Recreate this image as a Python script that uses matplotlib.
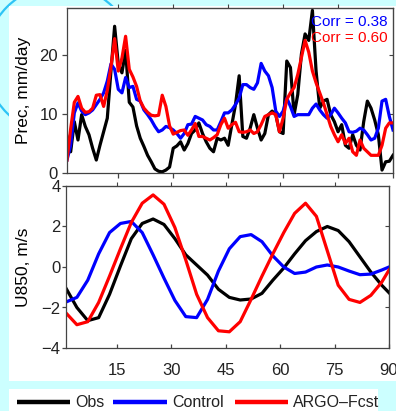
import numpy as np
import matplotlib
matplotlib.use("Agg")
import matplotlib.pyplot as plt
from matplotlib.patches import Rectangle, Ellipse
from matplotlib.lines import Line2D

plt.rcParams['font.family'] = ['Liberation Sans', 'DejaVu Sans']

# ---- data ----
days = np.arange(1, 91)

obs_prec = [6.2, 3.6, 8.7, 5.6, 9.9, 7.9, 6.5, 4.2, 2.2, 4.7,
            7.0, 9.3, 17.3, 24.9, 18.5, 17.0, 20.8, 12.0, 11.2, 8.0,
            5.9, 4.5, 3.0, 1.9, 0.7, 0.3, 0.2, 0.5, 1.0, 4.2,
            4.6, 5.3, 3.9, 5.0, 6.7, 7.3, 8.5, 6.7, 5.3, 4.2,
            3.6, 5.9, 5.6, 5.9, 4.7, 8.2, 11.6, 16.5, 6.2, 5.9,
            7.6, 9.9, 7.6, 5.6, 6.7, 9.9, 10.5, 9.9, 7.0, 6.7,
            19.0, 17.9, 9.9, 13.3, 20.2, 23.6, 22.5, 27.6, 17.3, 11.0,
            12.2, 12.5, 9.9, 8.7, 7.0, 8.2, 4.7, 4.2, 6.5, 4.7,
            3.9, 8.7, 12.2, 11.0, 9.0, 6.5, 0.5, 1.9, 2.0, 3.0]

ctl_prec = [2.2, 4.7, 10.2, 11.9, 10.5, 9.9, 10.2, 10.7, 11.6, 12.5,
            13.6, 15.6, 18.5, 17.6, 14.2, 13.6, 16.2, 14.5, 14.7, 12.5,
            12.2, 10.7, 9.9, 9.0, 7.9, 7.0, 7.3, 7.9, 7.7, 7.3,
            6.7, 5.9, 6.7, 8.2, 8.3, 9.6, 9.3, 9.0, 8.2, 7.9,
            7.3, 7.3, 8.7, 10.2, 10.2, 10.7, 11.6, 12.7, 15.0, 15.0,
            14.5, 14.2, 15.3, 18.6, 17.3, 16.5, 14.5, 10.5, 9.6, 10.5,
            12.7, 11.3, 9.6, 9.9, 9.9, 9.9, 9.9, 11.0, 11.7, 10.7,
            9.9, 9.3, 9.9, 11.0, 10.2, 9.3, 8.5, 7.0, 6.9, 7.1,
            7.6, 7.3, 6.5, 5.6, 5.9, 7.6, 12.2, 12.5, 9.6, 7.3]

argo_prec = [2.2, 7.5, 12.0, 13.0, 11.0, 10.3, 10.4, 11.0, 13.2, 13.3,
             11.3, 14.0, 18.0, 22.8, 17.3, 19.5, 23.2, 17.6, 16.3, 14.7,
             12.2, 11.0, 10.3, 9.8, 9.7, 9.8, 13.2, 11.3, 8.0, 6.6,
             6.9, 7.2, 7.3, 6.4, 7.3, 8.4, 6.2, 6.2, 5.9, 5.6,
             6.0, 6.5, 8.2, 9.3, 7.6, 8.2, 8.6, 7.0, 6.9, 7.0,
             7.3, 6.7, 7.0, 8.2, 9.6, 9.9, 10.2, 9.9, 7.0, 9.3,
             12.5, 13.6, 14.5, 16.7, 19.6, 22.5, 20.5, 17.3, 15.3, 13.6,
             11.9, 9.9, 7.9, 6.5, 5.3, 6.5, 5.0, 5.9, 3.6, 3.0,
             5.6, 4.2, 3.6, 3.0, 3.0, 3.0, 4.7, 7.6, 8.5, 8.5]

u_days = [1, 4, 7, 10, 13, 16, 19, 22, 25, 28, 31, 34, 37, 40, 43, 46,
          49, 52, 55, 58, 61, 64, 67, 70, 73, 76, 79, 82, 85, 88, 90]
obs_u = [-1.05, -2.0, -2.65, -2.5, -1.35, 0.05, 1.4, 2.15, 2.37, 2.1,
         1.4, 0.6, 0.1, -0.4, -1.1, -1.5, -1.63, -1.58, -1.3, -0.65,
         -0.05, 0.65, 1.3, 1.75, 2.0, 1.8, 1.25, 0.5, -0.25, -0.9, -1.27]
ctl_u = [-1.73, -1.5, -0.65, 0.65, 1.7, 2.15, 2.25, 1.7, 0.6, -0.55,
         -1.65, -2.45, -2.5, -1.6, -0.2, 0.9, 1.5, 1.6, 1.25, 0.55,
         0.0, -0.32, -0.25, 0.0, 0.1, 0.0, -0.2, -0.38, -0.35, -0.15, 0.0]
argo_u = [-2.27, -2.85, -2.7, -1.75, -0.45, 0.9, 2.2, 3.15, 3.56, 3.1,
          1.95, 0.35, -1.35, -2.5, -3.15, -3.2, -2.7, -1.6, -0.45, 0.65,
          1.7, 2.65, 3.15, 2.5, 0.8, -0.9, -1.6, -1.75, -1.4, -0.75, -0.15]

names = ['Obs', 'Control', 'ARGO\u2013Fcst']
colors = ['black', 'blue', 'red']
corr_text = ['Corr = 0.38', 'Corr = 0.60']

W, H = 396, 411
fig = plt.figure(figsize=(W / 100, H / 100), dpi=100)
fig.patch.set_facecolor('#ccffff')

# decorative arc + white panels (behind the axes)
fig.add_artist(Ellipse((60 / W, 1 - 60 / H), 150 / W, 150 / H, transform=fig.transFigure,
                       fill=False, edgecolor='#2ec4f6', lw=1.6, zorder=-2))
fig.add_artist(Rectangle((9 / W, 1 - 381 / H), 1, 375 / H, transform=fig.transFigure,
                         facecolor='white', edgecolor='none', zorder=-1))
fig.add_artist(Rectangle((9 / W, 0), 369 / W, 22 / H, transform=fig.transFigure,
                         facecolor='white', edgecolor='none', zorder=-1))

ax1 = fig.add_axes([67 / W, 1 - 173 / H, 326 / W, 165 / H])
ax2 = fig.add_axes([66 / W, 1 - 348 / H, 323 / W, 162 / H])

for y, c in zip([obs_prec, ctl_prec, argo_prec], colors):
    ax1.plot(days, y, color=c, lw=2.3, solid_joinstyle='round')
for y, c in zip([obs_u, ctl_u, argo_u], colors):
    ax2.plot(u_days, y, color=c, lw=2.3, solid_joinstyle='round')

xt = [15, 30, 45, 60, 75, 90]
for ax in (ax1, ax2):
    ax.set_xlim(1, 90)
    ax.set_xticks(xt)
    for s in ax.spines.values():
        s.set_color('#444444')
        s.set_linewidth(0.9)
    ax.tick_params(colors='#444444', labelcolor='#222222', labelsize=12, width=0.9)

ax1.set_ylim(0, 28)
ax1.set_yticks([0, 10, 20])
ax1.tick_params(axis='x', direction='out', length=3.5, labelbottom=False)
ax1.tick_params(axis='y', direction='out', length=3.5, pad=3)
sx = ax1.secondary_xaxis('top')
sx.set_xticks(xt[:-1])
sx.tick_params(direction='out', length=3, labeltop=False, color='#444444')
sy = ax1.secondary_yaxis('right')
sy.set_yticks([10, 20])
sy.tick_params(direction='in', length=3, labelright=False, color='#444444')
ax1.set_ylabel('Prec, mm/day', fontsize=12.5)
ax1.yaxis.set_label_coords(-0.11, 0.5)
ax1.text(0.982, 0.891, corr_text[0], color='blue', fontsize=11, ha='right',
         va='baseline', transform=ax1.transAxes)
ax1.text(0.982, 0.794, corr_text[1], color='red', fontsize=11, ha='right',
         va='baseline', transform=ax1.transAxes)

ax2.set_ylim(-4, 4)
ax2.set_yticks([-4, -2, 0, 2, 4])
ax2.tick_params(axis='x', direction='in', length=3, pad=10.5)
ax2.tick_params(axis='y', direction='out', length=3, pad=1)
sx2 = ax2.secondary_xaxis('top')
sx2.set_xticks(xt[:-1])
sx2.tick_params(direction='out', length=3, labeltop=False, color='#444444')
sy2 = ax2.secondary_yaxis('right')
sy2.set_yticks([-2, 2])
sy2.tick_params(direction='in', length=3, labelright=False, color='#444444')
ax2.set_ylabel('U850, m/s', fontsize=12.5)
ax2.yaxis.set_label_coords(-0.108, 0.5)

# legend row along the bottom
ly = 1 - 402 / H
seg = [(17, 70, 75), (113, 167, 172), (235, 288, 293)]
for (x0, x1, tx), name, c in zip(seg, names, colors):
    fig.add_artist(Line2D([x0 / W, x1 / W], [ly, ly], transform=fig.transFigure,
                          color=c, lw=3.2, solid_capstyle='butt'))
    fig.text(tx / W, ly, name, fontsize=11.5, va='center', ha='left', color='#222222')

fig.savefig('out.png', dpi=100, facecolor=fig.get_facecolor())
